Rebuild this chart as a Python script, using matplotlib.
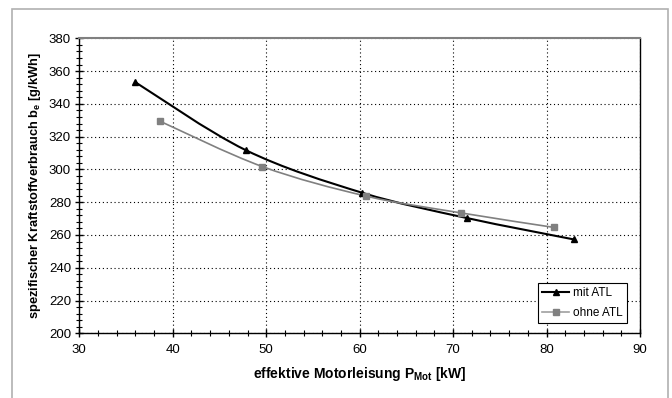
import matplotlib
matplotlib.use("Agg")
import matplotlib.pyplot as plt
import numpy as np
from matplotlib.path import Path
from matplotlib.patches import PathPatch, Rectangle
from matplotlib.ticker import MultipleLocator

plt.rcParams['font.family'] = ['Liberation Sans', 'DejaVu Sans']

# Data
mit_x = [36.0, 47.8, 60.3, 71.5, 82.9]
mit_y = [353.2, 311.8, 285.7, 270.3, 257.3]
ohne_x = [38.6, 49.6, 60.7, 70.8, 80.8]
ohne_y = [329.5, 301.7, 283.7, 273.5, 264.6]
x_ticks = [30, 40, 50, 60, 70, 80, 90]
y_ticks = [200, 220, 240, 260, 280, 300, 320, 340, 360, 380]


def smooth_path(xs, ys):
    pts = np.column_stack([xs, ys]).astype(float)
    n = len(pts)
    verts = [pts[0]]
    codes = [Path.MOVETO]
    for i in range(n - 1):
        p0 = pts[i - 1] if i > 0 else pts[i]
        p1 = pts[i]
        p2 = pts[i + 1]
        p3 = pts[i + 2] if i + 2 < n else pts[i + 1]
        c1 = p1 + (p2 - p0) / 6.0
        c2 = p2 - (p3 - p1) / 6.0
        verts += [c1, c2, p2]
        codes += [Path.CURVE4] * 3
    return Path(verts, codes)


fig = plt.figure(figsize=(6.72, 3.98), dpi=100)
fig.patches.append(Rectangle((12 / 672, -0.1), (668 - 12) / 672, 1.1 - 9 / 398,
                             transform=fig.transFigure, fill=False,
                             edgecolor='#b0b0b0', linewidth=1.2))
ax = fig.add_axes([79.3 / 672, 1 - 333.3 / 398, (640 - 79.3) / 672, (333.3 - 38.3) / 398])

ax.set_xlim(30, 90)
ax.set_ylim(200, 380)
ax.set_xticks(x_ticks)
ax.set_yticks(y_ticks)
ax.xaxis.set_minor_locator(MultipleLocator(2))
ax.yaxis.set_minor_locator(MultipleLocator(4))
ax.tick_params(which='major', direction='inout', length=6, width=1, labelsize=9.5)
ax.tick_params(axis='x', which='major', pad=5)
ax.tick_params(axis='y', which='major', pad=3)
ax.tick_params(which='minor', direction='inout', length=4, width=0.8)
ax.grid(True, which='major', linestyle=(0, (1, 2.5)), color='black', linewidth=0.8)

for s in ['left', 'bottom', 'right']:
    ax.spines[s].set_color('black')
    ax.spines[s].set_linewidth(1.0)
ax.spines['top'].set_color('#808080')
ax.spines['top'].set_linewidth(1.5)

ax.add_patch(PathPatch(smooth_path(mit_x, mit_y), fill=False, edgecolor='black', linewidth=1.5, zorder=3))
ax.add_patch(PathPatch(smooth_path(ohne_x, ohne_y), fill=False, edgecolor='#808080', linewidth=1.2, zorder=3))
ax.plot(mit_x, mit_y, linestyle='none', marker='^', color='black', markersize=5, zorder=4)
ax.plot(ohne_x, ohne_y, linestyle='none', marker='s', color='#808080', markersize=5, zorder=4)

h1, = ax.plot([], [], color='black', linewidth=1.5, marker='^', markersize=5, label='mit ATL')
h2, = ax.plot([], [], color='#a0a0a0', linewidth=1.2, marker='s', markersize=5,
              markerfacecolor='#808080', markeredgecolor='#808080', label='ohne ATL')
leg = ax.legend(handles=[h1, h2], loc='lower right', bbox_to_anchor=(626.7 / 672, 1 - 323.3 / 398),
                bbox_transform=fig.transFigure, fontsize=8.5, frameon=True, fancybox=False,
                edgecolor='black', framealpha=1, borderaxespad=0, handlelength=2.3,
                handletextpad=0.3, borderpad=0.35, labelspacing=0.7)
leg.get_frame().set_linewidth(0.8)

ax.set_xlabel('effektive Motorleisung P$_{\\mathregular{Mot}}$ [kW]', fontsize=10, fontweight='bold', labelpad=6)
ax.set_ylabel('spezifischer Kraftstoffverbrauch b$_{\\mathregular{e}}$ [g/kWh]', fontsize=9.3, fontweight='bold', labelpad=4)

fig.savefig('out.png', dpi=100)
